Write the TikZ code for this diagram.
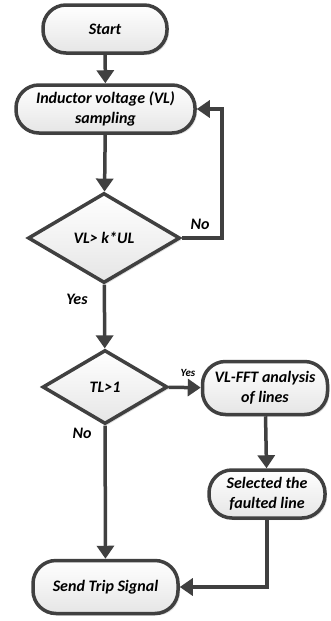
\documentclass[tikz,border=0pt]{standalone}
\usepackage{fontspec}
\setmainfont{Carlito}
\usetikzlibrary{shapes.geometric,arrows.meta,shadows}

\definecolor{linegray}{HTML}{404040}

\tikzset{
  flowline/.style={line width=3.5pt, draw=linegray,
                   -{Triangle[width=17pt,length=13pt]}},
  loopline/.style={flowline, rounded corners=0pt},
  blockfont/.style={font=\bfseries\itshape\fontsize{16}{20}\selectfont},
  termbox/.style={rectangle, rounded corners=23pt, draw=linegray,
                  line width=3.5pt, top color=white, bottom color=gray!20,
                  drop shadow={shadow xshift=2pt, shadow yshift=-2pt, opacity=0.25},
                  blockfont, align=center, inner sep=0pt},
  decbox/.style={diamond, draw=linegray, line width=3.5pt,
                 top color=white, bottom color=gray!20,
                 drop shadow={shadow xshift=2pt, shadow yshift=-2pt, opacity=0.25},
                 blockfont, inner sep=0pt},
  branchlabel/.style={blockfont, inner sep=0pt},
  smalllabel/.style={font=\bfseries\itshape\fontsize{11}{13}\selectfont, inner sep=0pt}
}

\begin{document}
\begin{tikzpicture}[x=1pt,y=-1pt]
  \useasboundingbox (0,0) rectangle (330,621);

  % --- Main column ---
  \node[termbox, minimum width=124pt, minimum height=48pt] (start) at (105,29) {Start};
  \node[termbox, minimum width=179pt, minimum height=48pt] (vl) at (105.5,109)
        {Inductor voltage (VL)\\sampling};
  \node[decbox, minimum width=152pt, minimum height=90pt] (cmp) at (104,238) {VL> k*UL};
  \node[decbox, minimum width=125pt, minimum height=74pt] (tl) at (105,387) {TL>1};
  \node[termbox, minimum width=145pt, minimum height=53pt] (trip) at (105.5,587)
        {Send Trip Signal};

  % --- Right column ---
  \node[termbox, minimum width=125pt, minimum height=53pt] (fft) at (265,388)
        {VL-FFT analysis\\of lines};
  \node[termbox, minimum width=116pt, minimum height=48pt] (sel) at (267,494)
        {Selected the\\faulted line};

  % --- Connectors ---
  \draw[flowline] (start) -- (vl);
  \draw[flowline] (vl) -- (cmp);
  \draw[loopline] (cmp.east) -- ++(40,0) |- (vl.east);
  \draw[flowline] (cmp) -- (tl);
  \draw[flowline] (tl) -- (fft);
  \draw[flowline] (tl) -- (trip);
  \draw[flowline] (fft) -- (sel);
  \draw[loopline] (sel.south) |- (trip.east);

  % --- Labels ---
  \node[branchlabel] (cmpno)  at (200,224) {No};
  \node[branchlabel] (cmpyes) at (77,299)  {Yes};
  \node[smalllabel]  (tlyes)  at (188,373) {Yes};
  \node[branchlabel] (tlno)   at (82,433)  {No};
\end{tikzpicture}
\end{document}
